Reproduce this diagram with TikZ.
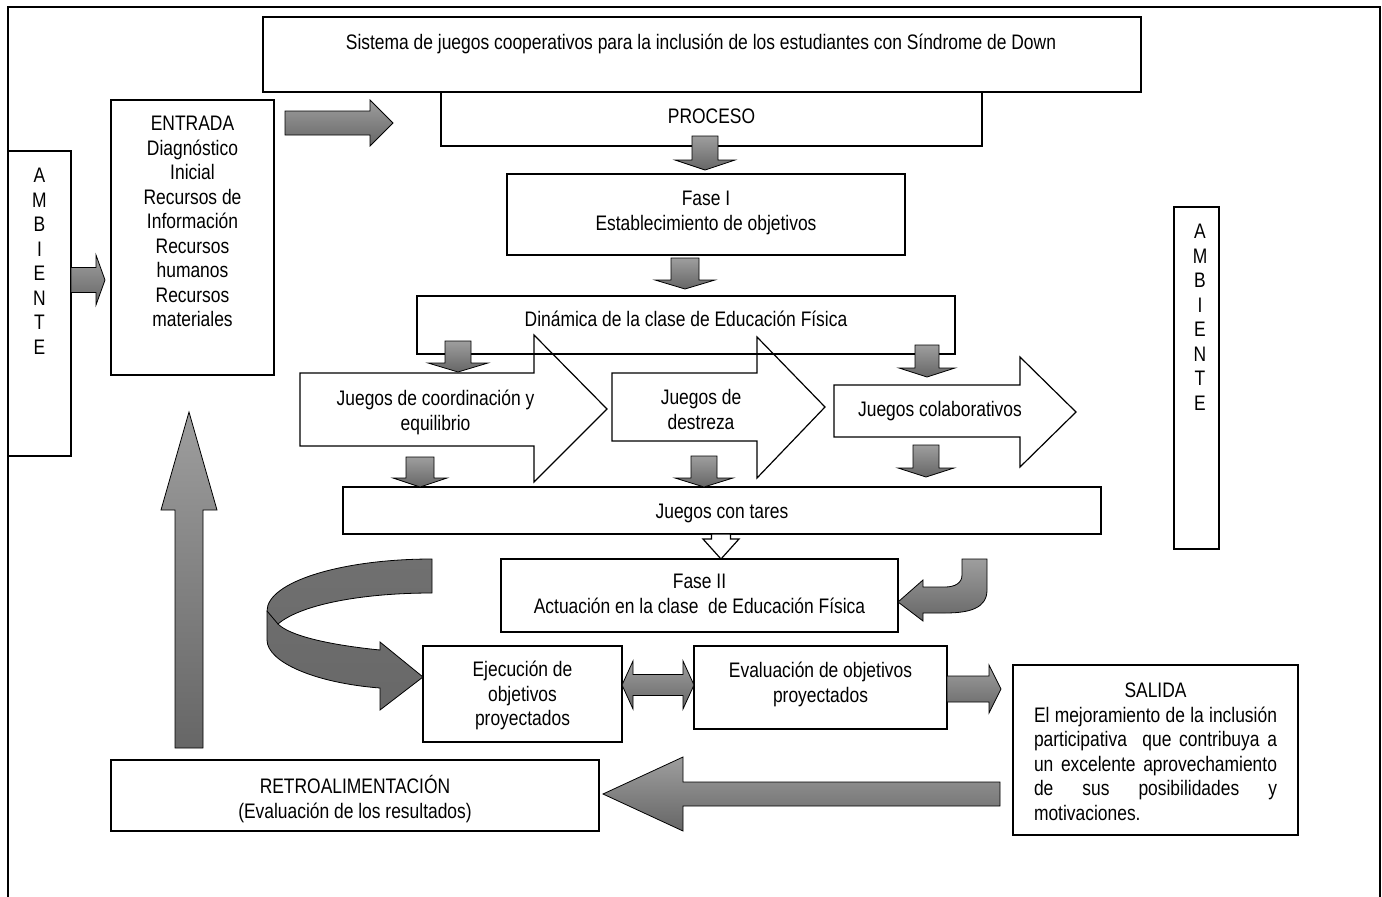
\documentclass[tikz,border=0pt]{standalone}
\usepackage{fontspec}
\setmainfont[FakeStretch=0.83]{Liberation Sans}
\usetikzlibrary{calc}
\newcommand\dfont{\fontsize{21}{24.5}\selectfont}
\newcommand\ml[1]{\begin{tabular}[t]{@{}c@{}}#1\end{tabular}}
\definecolor{gtop}{RGB}{158,158,158}
\definecolor{gbot}{RGB}{102,102,102}
\definecolor{ua}{RGB}{112,112,112}
\definecolor{ub}{RGB}{148,148,148}
\definecolor{uc}{RGB}{104,104,104}
\tikzset{
  frame/.style={draw=black, line width=2.6pt},
  box/.style={draw=black, line width=1.7pt, inner sep=0pt, outer sep=0pt},
  txt/.style={anchor=base, inner sep=0pt, font=\dfont},
  garrow/.style={draw=black, line width=0.8pt, top color=gtop, bottom color=gbot},
  warrow/.style={draw=black, line width=1.2pt, fill=white},
  uarrow/.style={draw=black, line width=0.8pt, top color=ua, middle color=ub, bottom color=uc},
}
% #2 from, #3 to, #4 shaft half width, #5 head half width, #6 head length
\newcommand\barrow[6][garrow]{%
  \path ($(#3)!#6!(#2)$) coordinate (bh);
  \draw[#1] ($(#2)!#4!90:(#3)$) -- ($(bh)!#4!90:(#3)$) -- ($(bh)!#5!90:(#3)$) -- (#3)
    -- ($(bh)!#5!-90:(#3)$) -- ($(bh)!#4!-90:(#3)$) -- ($(#2)!#4!-90:(#3)$) -- cycle;}
\begin{document}
\begin{tikzpicture}[x=1pt,y=-1pt]
\useasboundingbox (0,0) rectangle (1382,897);
\draw[frame] (8,900) -- (8,7) -- (1380,7) -- (1380,900);

% boxes
\node[box, minimum width=878pt, minimum height=75pt] (title) at (702,54.5) {};
\node[box, minimum width=541pt, minimum height=54pt] (proceso) at (711.5,119) {};
\node[box, minimum width=398pt, minimum height=81pt] (fase1) at (706,214.5) {};
\node[box, minimum width=758pt, minimum height=47pt] (tares) at (722,510.5) {};
\node[box, minimum width=397pt, minimum height=73pt] (fase2) at (699.5,595.5) {};
\node[box, minimum width=199pt, minimum height=96pt] (ejec) at (522.5,694) {};
\node[box, minimum width=253pt, minimum height=83pt] (evalu) at (820.5,687.5) {};
\node[box, minimum width=285pt, minimum height=170pt] (salida) at (1155.5,750) {};
\node[box, minimum width=488pt, minimum height=71pt] (retro) at (355,795.5) {};
\node[box, minimum width=163pt, minimum height=275pt] (entrada) at (192.5,237.5) {};
\node[box, minimum width=63pt, minimum height=305pt] (amb1) at (39.5,303.5) {};
\node[box, minimum width=45pt, minimum height=342pt] (amb2) at (1196.5,378) {};

% big white arrows
\draw[warrow] (300,373) -- (534,373) -- (534,335) -- (607,409) -- (534,482) -- (534,446) -- (300,446) -- cycle;
\draw[warrow] (612,373) -- (757,373) -- (757,337) -- (825,407) -- (757,478) -- (757,441) -- (612,441) -- cycle;
\draw[warrow] (834,385) -- (1020,385) -- (1020,357) -- (1076,412) -- (1020,467) -- (1020,437) -- (834,437) -- cycle;

\node[box, minimum width=538pt, minimum height=58pt] (dinamica) at (686,325) {};

% connector end points
\coordinate (a1s) at (71,280);   \coordinate (a1e) at (105,280);
\coordinate (a2s) at (285,123);  \coordinate (a2e) at (393,123);
\coordinate (a3s) at (705,136);  \coordinate (a3e) at (705,170);
\coordinate (a4s) at (685,258);  \coordinate (a4e) at (685,289);
\coordinate (a5s) at (458,341);  \coordinate (a5e) at (458,372);
\coordinate (a6s) at (927,345);  \coordinate (a6e) at (927,377);
\coordinate (b1s) at (420,457);  \coordinate (b1e) at (420,487);
\coordinate (b2s) at (704,456);  \coordinate (b2e) at (704,487);
\coordinate (b3s) at (926,445);  \coordinate (b3e) at (926,477);
\coordinate (hs) at (721,534);   \coordinate (he) at (721,559);
\coordinate (es) at (947,689);   \coordinate (ee) at (1001,689);
\coordinate (fs) at (1000,794);  \coordinate (fe) at (603,794);
\coordinate (us) at (189,748);   \coordinate (ue) at (189,412);
\coordinate (dL) at (622,685);   \coordinate (dR) at (694,685);

\barrow{a1s}{a1e}{12.5pt}{25pt}{9pt}
\barrow{a2s}{a2e}{12pt}{23pt}{23pt}
\barrow{a3s}{a3e}{13pt}{30pt}{10pt}
\barrow{a4s}{a4e}{14pt}{30pt}{9pt}
\barrow{a5s}{a5e}{13pt}{30pt}{9pt}
\barrow{a6s}{a6e}{12pt}{28pt}{9pt}
\barrow{b1s}{b1e}{14pt}{27pt}{9pt}
\barrow{b2s}{b2e}{13pt}{29pt}{9pt}
\barrow{b3s}{b3e}{13pt}{28pt}{9pt}
\barrow[warrow]{hs}{he}{9.5pt}{18pt}{20pt}
\barrow{es}{ee}{13pt}{24pt}{12pt}
\barrow{fs}{fe}{12pt}{37pt}{80pt}
\barrow{us}{ue}{14pt}{28pt}{98pt}
% double arrow
\draw[garrow] (dL) -- ++(11,-24) -- ++(0,13.5) -- ($(dR)+(-11,-10.5)$) -- ++(0,-13.5) -- (dR)
  -- ++(-11,24) -- ++(0,-13.5) -- ($(dL)+(11,10.5)$) -- ++(0,13.5) -- cycle;
% curved arrow into Fase II
\draw[garrow] (962,559) -- (987,559) -- (987,590) .. controls (987,608) and (970,613) .. (945,613)
  -- (923,613) -- (923,621) -- (fase2.east |- 0,602) -- (923,580) -- (923,587) -- (945,587)
  .. controls (955,587) and (962,583) .. (962,575) -- cycle;
% U-turn arrow into Ejecucion
\draw[uarrow] (432,559) .. controls (341,559) and (267,582) .. (267,611) -- (267,640)
  .. controls (267,662) and (315,683) .. (380,688) -- (380,710) -- (ejec.west |- 0,677) -- (380,642) -- (380,650)
  .. controls (330,645) and (290,636) .. (278,624) .. controls (300,605) and (360,593) .. (432,593) -- cycle;
\draw[line width=0.8pt] (267,611) -- (278,624);

% texts
\node[txt] (t-title) at (701,49.6) {Sistema de juegos cooperativos para la inclusión de los estudiantes con Síndrome de Down};
\node[txt] (t-proceso) at (711.5,123.6) {PROCESO};
\node[txt] (t-fase1) at (706,205.6) {\ml{Fase I\\Establecimiento de objetivos}};
\node[txt] (t-din) at (686,326.6) {Dinámica de la clase de Educación Física};
\node[txt] (t-j1) at (435.5,405.6) {\ml{Juegos de coordinación y\\equilibrio}};
\node[txt] (t-j2) at (701,404.6) {\ml{Juegos de\\destreza}};
\node[txt] (t-j3) at (940,416.6) {Juegos colaborativos};
\node[txt] (t-tares) at (722,518.6) {Juegos con tares};
\node[txt] (t-fase2) at (699.5,588.6) {\ml{Fase II\\Actuación en la clase\ \ de Educación Física}};
\node[txt] (t-ejec) at (522.5,676.6) {\ml{Ejecución de\\objetivos\\proyectados}};
\node[txt] (t-evalu) at (820.5,677.6) {\ml{Evaluación de objetivos\\proyectados}};
\node[txt] (t-salida) at (1155.5,697.6) {\ml{SALIDA\\
  \makebox[243pt][s]{El mejoramiento de la inclusión}\\
  \makebox[243pt][s]{participativa\ \ que contribuya a}\\
  \makebox[243pt][s]{un excelente aprovechamiento}\\
  \makebox[243pt][s]{de sus posibilidades y}\\
  \makebox[243pt][l]{motivaciones.}}};
\node[txt] (t-retro) at (355,793.6) {\ml{RETROALIMENTACIÓN\\(Evaluación de los resultados)}};
\node[txt] (t-entrada) at (192.5,130.6) {\ml{ENTRADA\\Diagnóstico\\Inicial\\Recursos de\\Información\\Recursos\\humanos\\Recursos\\materiales}};
\node[txt] (t-amb1) at (39.5,182.6) {\ml{A\\M\\B\\I\\E\\N\\T\\E}};
\node[txt] (t-amb2) at (1200,238.6) {\ml{A\\M\\B\\I\\E\\N\\T\\E}};
\end{tikzpicture}
\end{document}
